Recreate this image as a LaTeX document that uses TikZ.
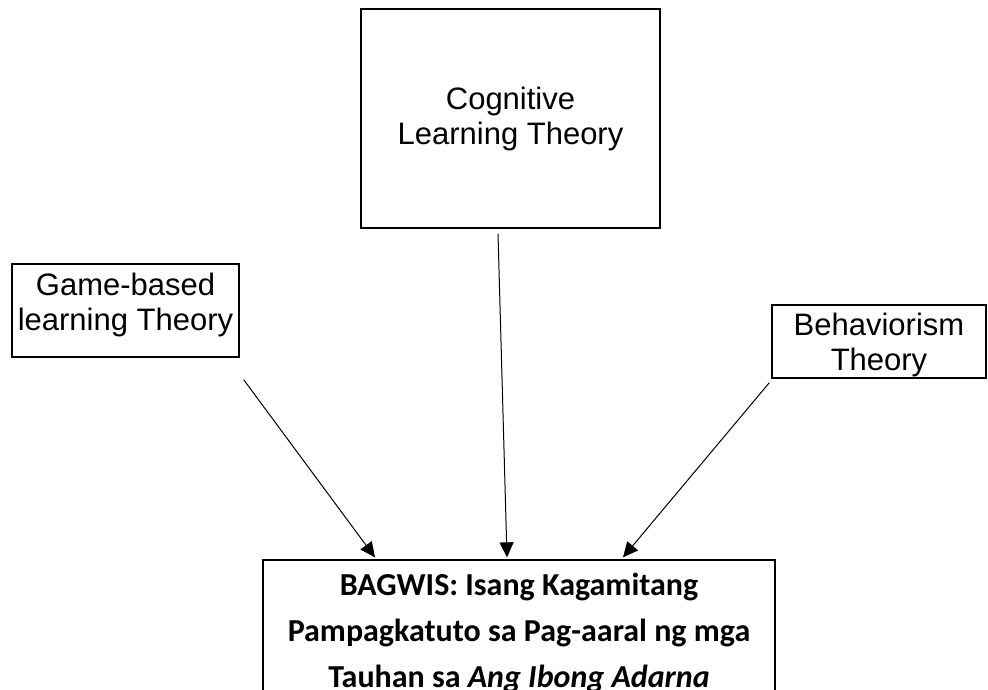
\documentclass[tikz,border=0pt]{standalone}
\usepackage{fontspec}
\setmainfont{Liberation Sans}
\newfontfamily\carlito{Carlito}
\usetikzlibrary{arrows.meta}

\begin{document}
\begin{tikzpicture}[x=1pt, y=-1pt,
  theory/.style={draw, line width=1.3pt, align=center, inner sep=0pt,
    font=\fontsize{31}{35}\selectfont},
  goal/.style={draw, line width=1.3pt, align=center, inner sep=0pt,
    font=\carlito\bfseries\fontsize{32}{46}\selectfont},
  tip/.style={-{Triangle[length=15pt,width=14pt]}, line width=1pt}]
 \useasboundingbox (0,0) rectangle (988,690);
 % theories
 \node[theory, minimum width=299pt, minimum height=219pt] (cog) at (510.5,118.5) {Cognitive\\Learning Theory};
 \node[theory, minimum width=227pt, minimum height=93pt, text depth=18pt] (game) at (125.5,310.5) {Game-based\\learning Theory};
 \node[theory, minimum width=214pt, minimum height=73pt, text height=64pt] (behav) at (879,341.5) {Behaviorism\\Theory};
 % material
 \node[goal, minimum width=512pt, minimum height=150pt, text depth=10pt] (bagwis) at (519,635)
  {BAGWIS: Isang Kagamitang\\Pampagkatuto sa Pag-aaral ng mga\\Tauhan sa \textit{Ang Ibong Adarna}};
 \path[tip]
  ([shift={(4pt,-22pt)}]game.south east) edge ([shift={(-144pt,2pt)}]bagwis.north)
  ([shift={(-12.5pt,-5pt)}]cog.south) edge ([shift={(-12pt,2pt)}]bagwis.north)
  ([shift={(-2pt,-4pt)}]behav.south west) edge ([shift={(104pt,2pt)}]bagwis.north)
;
\end{tikzpicture}
\end{document}
